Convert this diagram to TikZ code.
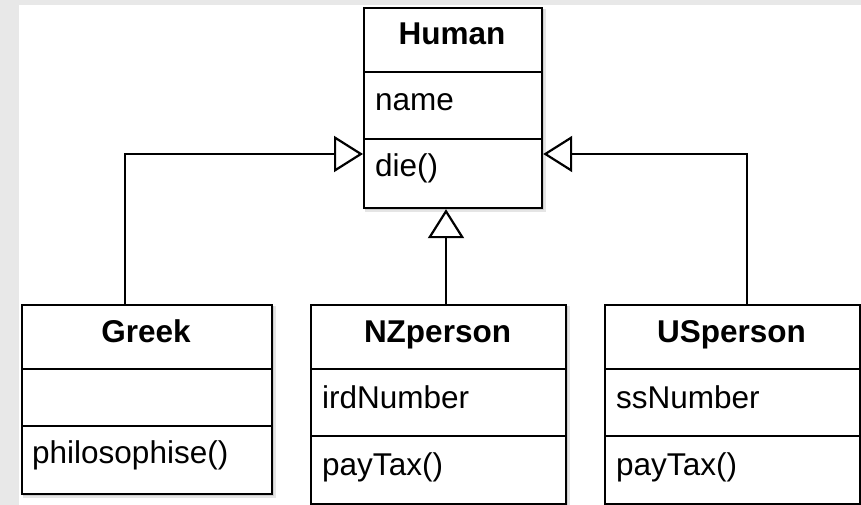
\documentclass[tikz,border=0pt]{standalone}
\usepackage{fontspec}
\setmainfont{Liberation Sans}
\usetikzlibrary{arrows.meta}
\definecolor{pagegray}{HTML}{E8E8E8}
\tikzset{
  classbox/.style={draw=black, line width=2.2pt, fill=white, inner sep=0pt, anchor=north west},
  boxshade/.style={fill=black, opacity=0.10},
  divider/.style={line width=2.2pt},
  classtitle/.style={font=\fontsize{31.5}{36}\selectfont\bfseries, anchor=base, inner sep=0pt},
  member/.style={font=\fontsize{31.5}{36}\selectfont, anchor=base west, inner sep=0pt},
  inherit/.style={line width=2.2pt, -{Triangle[open, length=29pt, width=36pt, fill=white]}},
}
\begin{document}
\begin{tikzpicture}[x=1pt, y=-1pt]
  % page background
  \fill[pagegray] (0,0) rectangle (861,505);
  \fill[white] (19,5) rectangle (861,505);
  \useasboundingbox (0,0) rectangle (861,505);

  % soft shadows under the class boxes
  \foreach \xa/\ya/\xb/\yb in {363/7/541/207, 21/304/271/493, 310/304/565/503, 604/304/859/503}{
    \fill[boxshade] (\xa+2,\ya+2) rectangle (\xb+5,\yb+5);
    \fill[boxshade] (\xa+2,\ya+2) rectangle (\xb+3,\yb+3);
  }

  % Human
  \node[classbox, minimum width=178pt, minimum height=200pt] (human) at (363,7) {};
  \draw[divider] (363,72) -- (541,72);
  \draw[divider] (363,139) -- (541,139);
  \node[classtitle] (humanT) at (452,45) {Human};
  \node[member] (humanA) at (375,111) {name};
  \node[member] (humanM) at (375,176) {die()};

  % Greek
  \node[classbox, minimum width=250pt, minimum height=189pt] (greek) at (21,304) {};
  \draw[divider] (21,369) -- (271,369);
  \draw[divider] (21,426) -- (271,426);
  \node[classtitle] (greekT) at (146,342) {Greek};
  \node[member] (greekM) at (32,463) {philosophise()};

  % NZperson
  \node[classbox, minimum width=255pt, minimum height=199pt] (nz) at (310,304) {};
  \draw[divider] (310,369) -- (565,369);
  \draw[divider] (310,436) -- (565,436);
  \node[classtitle] (nzT) at (437.5,342) {NZperson};
  \node[member] (nzA) at (322,408) {irdNumber};
  \node[member] (nzM) at (322,475) {payTax()};

  % USperson
  \node[classbox, minimum width=255pt, minimum height=199pt] (us) at (604,304) {};
  \draw[divider] (604,369) -- (859,369);
  \draw[divider] (604,436) -- (859,436);
  \node[classtitle] (usT) at (731.5,342) {USperson};
  \node[member] (usA) at (616,408) {ssNumber};
  \node[member] (usM) at (616,475) {payTax()};

  % generalisation arrows
  \coordinate (greekx) at (125,0);
  \coordinate (nzx) at (446,0);
  \coordinate (usx) at (747,0);
  \coordinate (arrowy) at (0,154);
  \draw[inherit] (greek.north -| greekx) |- (human.west |- arrowy);
  \draw[inherit] (nz.north -| nzx) -- (human.south -| nzx);
  \draw[inherit] (us.north -| usx) |- (human.east |- arrowy);
\end{tikzpicture}
\end{document}
